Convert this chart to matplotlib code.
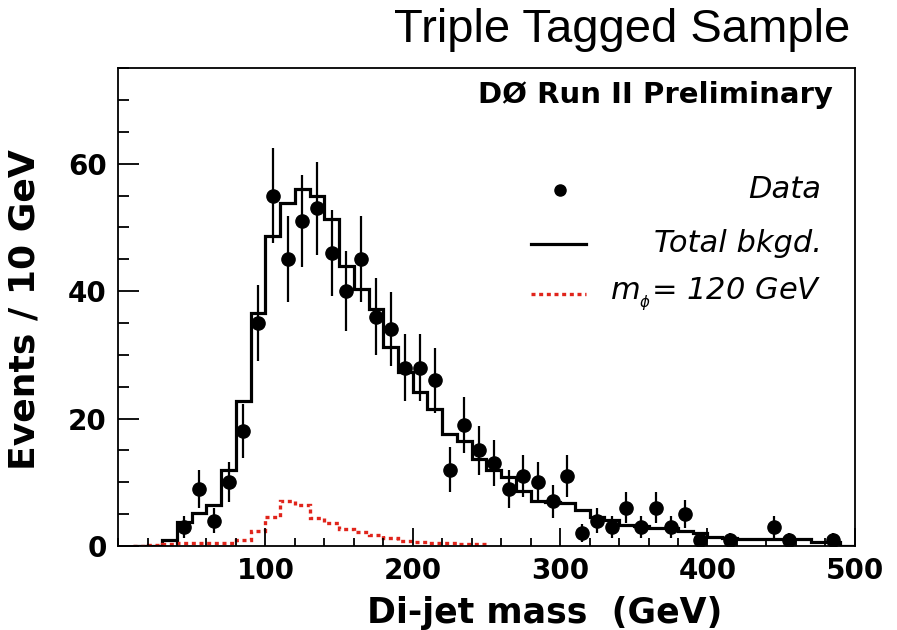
import numpy as np
import matplotlib
matplotlib.use("Agg")
import matplotlib.pyplot as plt
from matplotlib.ticker import MultipleLocator

plt.rcParams["font.family"] = ["DejaVu Sans"]

# Observed events per 10 GeV bin (bin centres in GeV)
mass_centres = [45, 55, 65, 75, 85, 95, 105, 115, 125, 135, 145, 155, 165, 175,
                185, 195, 205, 215, 225, 235, 245, 255, 265, 275, 285, 295, 305,
                315, 325, 335, 345, 355, 365, 375, 385, 395, 415, 445, 455, 485]
data_counts = [3, 9, 4, 10, 18, 35, 55, 45, 51, 53, 46, 40, 45, 36,
               34, 28, 28, 26, 12, 19, 15, 13, 9, 11, 10, 7, 11,
               2, 4, 3, 6, 3, 6, 3, 5, 1, 1, 3, 1, 1]

# Total background expectation, 10 GeV bins from 10 to 500 GeV
bkg_edges = np.arange(10, 501, 10)
bkg_counts = [0, 0, 0.9, 3.8, 5.2, 6.5, 11.9, 22.8, 36.6, 48.7,
              53.9, 56.0, 54.9, 51.3, 44.0, 40.3, 37.2, 31.3, 27.3, 24.2,
              21.5, 17.6, 16.5, 13.7, 12.0, 10.8, 8.7, 7.1, 6.9, 6.7,
              5.7, 4.6, 4.1, 3.3, 3.1, 2.8, 2.8, 2.3, 2.0, 1.4,
              1.2, 1.05, 1.05, 1.05, 1.05, 1.05, 0.7, 0.7, 0.0]

# Signal template for m_phi = 120 GeV, 10 GeV bins from 10 to 250 GeV
sig_edges = np.arange(10, 251, 10)
sig_counts = [0.0, 0.2, 0.3, 0.4, 0.4, 0.4, 0.5, 1.0, 2.3, 4.6,
              7.1, 6.5, 4.4, 3.6, 2.6, 2.2, 1.7, 1.2, 0.8, 0.6,
              0.5, 0.4, 0.3, 0.3]

RED = "#e0241b"
DOTS = (0, (1.2, 1.1))

fig = plt.figure(figsize=(8.97, 6.30), dpi=100)
ax = fig.add_axes([0.1316, 0.1333, 0.8214, 0.7587])

ax.stairs(bkg_counts, bkg_edges, color="black", linewidth=2.3, baseline=None)
ax.stairs(sig_counts, sig_edges, color=RED, linewidth=2.4, linestyle=DOTS,
          baseline=None)

counts = np.array(data_counts, dtype=float)
ax.errorbar(mass_centres, counts, yerr=np.sqrt(counts), fmt="o", color="black",
            markersize=9.5, elinewidth=1.6, capsize=0, zorder=5)

ax.set_xlim(0, 500)
ax.set_ylim(0, 75)
ax.xaxis.set_major_locator(MultipleLocator(100))
ax.xaxis.set_minor_locator(MultipleLocator(20))
ax.yaxis.set_major_locator(MultipleLocator(20))
ax.yaxis.set_minor_locator(MultipleLocator(5))
ax.tick_params(axis="both", which="both", direction="in", top=False, right=False,
               width=1.3, labelsize=20)
ax.tick_params(axis="y", which="major", length=15, pad=8)
ax.tick_params(axis="y", which="minor", length=8)
ax.tick_params(axis="x", which="major", length=13, pad=8)
ax.tick_params(axis="x", which="minor", length=6)
ax.set_xticks([100, 200, 300, 400, 500])
ax.set_xticklabels(["100", "200", "300", "400", "500"], fontweight="bold")
ax.set_yticks([0, 20, 40, 60])
ax.set_yticklabels(["0", "20", "40", "60"], fontweight="bold")
for s in ax.spines.values():
    s.set_linewidth(1.3)

ax.set_xlabel("Di-jet mass  (GeV)", fontsize=25, fontweight="bold")
ax.xaxis.set_label_coords(0.82, -0.105)
ax.xaxis.label.set_horizontalalignment("right")
ax.set_ylabel("Events / 10 GeV", fontsize=26, fontweight="bold")
ax.yaxis.set_label_coords(-0.104, 0.494)

fig.text(0.948, 0.952, "Triple Tagged Sample", fontsize=34, ha="right",
         va="center", family="Liberation Sans")
ax.text(0.97, 0.943, "DØ Run II Preliminary", transform=ax.transAxes,
        fontsize=21, fontweight="bold", ha="right", va="center")

# legend drawn by hand: symbol on the left, right-aligned italic label
tx = 0.955
ax.plot([0.60], [0.745], "o", color="black", markersize=8, transform=ax.transAxes)
ax.text(tx, 0.745, "Data", transform=ax.transAxes, fontsize=22, style="italic",
        ha="right", va="center")
ax.plot([0.56, 0.635], [0.632, 0.632], color="black", linewidth=2.3,
        transform=ax.transAxes)
ax.text(tx, 0.632, "Total bkgd.", transform=ax.transAxes, fontsize=22,
        style="italic", ha="right", va="center")
ax.plot([0.56, 0.635], [0.527, 0.527], color=RED, linewidth=2.4,
        linestyle=DOTS, transform=ax.transAxes)
ax.text(tx, 0.527, r"$m_{_\phi}$= 120 GeV", transform=ax.transAxes, fontsize=22,
        style="italic", ha="right", va="center")

fig.savefig("out.png", dpi=100)
